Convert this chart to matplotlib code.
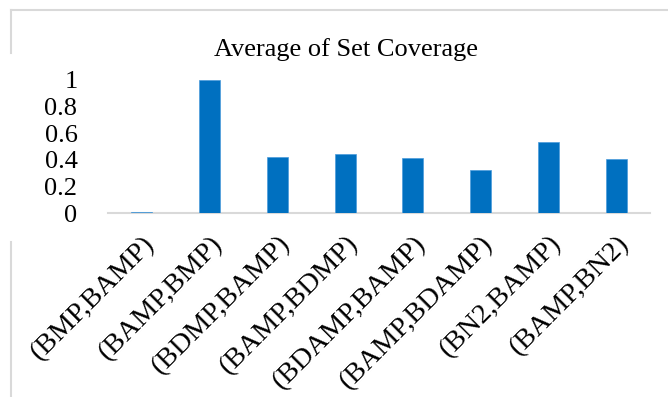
import matplotlib
matplotlib.use("Agg")
import matplotlib.pyplot as plt
from matplotlib.lines import Line2D

categories = ["(BMP,BAMP)", "(BAMP,BMP)", "(BDMP,BAMP)", "(BAMP,BDMP)",
              "(BDAMP,BAMP)", "(BAMP,BDAMP)", "(BN2,BAMP)", "(BAMP,BN2)"]
coverage = [0.006, 1.0, 0.42, 0.445, 0.41, 0.325, 0.533, 0.405]
y_ticks = [0, 0.2, 0.4, 0.6, 0.8, 1.0]
y_tick_labels = ["0", "0.2", "0.4", "0.6", "0.8", "1"]

plt.rcParams["font.family"] = ["Liberation Serif", "DejaVu Serif"]

W, H = 668, 397
fig = plt.figure(figsize=(W / 100, H / 100), dpi=100)
ax = fig.add_axes([108 / W, (H - 213) / H, (650 - 108) / W, (213 - 80) / H])

x = list(range(len(categories)))
ax.bar(x, coverage, width=0.31, color="#0070C0", edgecolor="#4A9BDB",
       linewidth=0.5, zorder=3)

ax.set_xlim(-0.5, len(categories) - 0.5)
ax.set_ylim(0, 1)
ax.set_yticks(y_ticks)
ax.set_yticklabels(y_tick_labels, fontsize=19, va="center_baseline")
ax.set_xticks(x)
ax.set_xticklabels(categories, rotation=45, ha="right", va="top",
                   rotation_mode="anchor", fontsize=20.5)
ax.tick_params(axis="y", length=0, pad=22)
ax.tick_params(axis="x", length=0, pad=13)

for side in ("top", "right", "left"):
    ax.spines[side].set_visible(False)
ax.spines["bottom"].set_color("#D9D9D9")
ax.spines["bottom"].set_linewidth(1.5)

fig.text(346 / W, 1 - 50 / H, "Average of Set Coverage", ha="center", va="center",
         fontsize=19)

# chart frame (top edge and left edge segments)
frame_kw = dict(color="#D9D9D9", linewidth=1.5, transform=fig.transFigure)
fig.add_artist(Line2D([11 / W, 1.0], [1 - 10 / H, 1 - 10 / H], **frame_kw))
fig.add_artist(Line2D([11 / W, 11 / W], [1 - 10 / H, 1 - 53 / H], **frame_kw))
fig.add_artist(Line2D([11 / W, 11 / W], [1 - 242 / H, 0.0], **frame_kw))

fig.savefig("out.png", dpi=100, facecolor="white")
